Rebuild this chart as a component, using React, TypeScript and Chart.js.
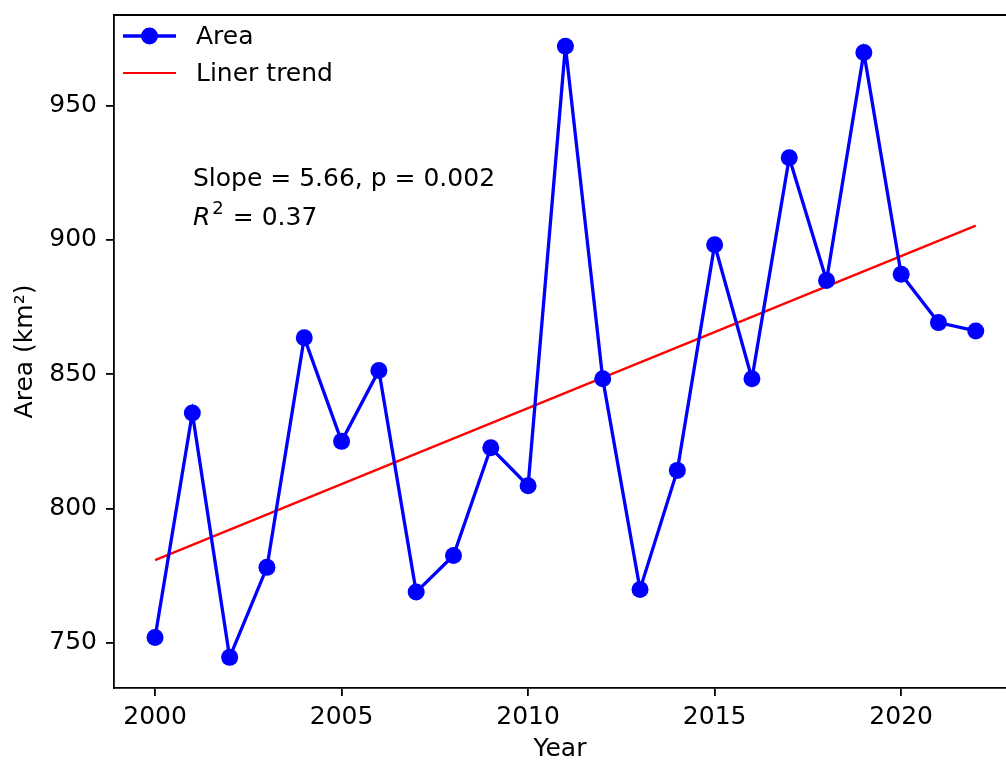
import React, { useEffect, useRef } from "react";
import { Chart, registerables } from "chart.js";

Chart.register(...registerables);

const years = [2000, 2001, 2002, 2003, 2004, 2005, 2006, 2007, 2008, 2009, 2010, 2011, 2012, 2013, 2014, 2015, 2016, 2017, 2018, 2019, 2020, 2021, 2022];
const areaValues = [752, 835.6, 744.6, 778.1, 863.6, 825, 851.4, 768.9, 782.5, 822.6, 808.5, 972.1, 848.3, 769.9, 814.2, 898.2, 848.3, 930.6, 884.9, 969.7, 887.2, 869.2, 866.1];
const trendYears = [2000, 2022];
const trendValues = [780.8, 905.3];
const xTickValues = [2000, 2005, 2010, 2015, 2020];
const yTickValues = [750, 800, 850, 900, 950];
const legendLabels = ["Area", "Liner trend"];
const slopeText = "Slope = 5.66, p = 0.002";
const r2Text = " = 0.37";
const xTitle = "Year";
const yTitle = "Area (km²)";

const FONT = "'DejaVu Sans', sans-serif";
const FS = 25;

const overlayPlugin = {
  id: "overlay",
  afterDraw(chart: any) {
    const ctx = chart.ctx;
    const ca = chart.chartArea;
    ctx.save();
    // top spine
    ctx.strokeStyle = "#000";
    ctx.lineWidth = 1.8;
    ctx.beginPath();
    ctx.moveTo(ca.left - 0.9, ca.top);
    ctx.lineTo(chart.width, ca.top);
    ctx.stroke();

    // legend
    const lx0 = 123, lx1 = 176, tx = 196;
    const rows = [36, 73];
    ctx.font = `${FS}px ${FONT}`;
    ctx.textBaseline = "middle";
    ctx.textAlign = "left";
    ctx.strokeStyle = "#0000ff";
    ctx.lineWidth = 3.3;
    ctx.beginPath();
    ctx.moveTo(lx0, rows[0]);
    ctx.lineTo(lx1, rows[0]);
    ctx.stroke();
    ctx.fillStyle = "#0000ff";
    ctx.beginPath();
    ctx.arc((lx0 + lx1) / 2, rows[0], 8.5, 0, Math.PI * 2);
    ctx.fill();
    ctx.fillStyle = "#000";
    ctx.fillText(legendLabels[0], tx, rows[0] + 1);
    ctx.strokeStyle = "#ff0000";
    ctx.lineWidth = 2.2;
    ctx.beginPath();
    ctx.moveTo(lx0, rows[1]);
    ctx.lineTo(lx1, rows[1]);
    ctx.stroke();
    ctx.fillStyle = "#000";
    ctx.fillText(legendLabels[1], tx, rows[1] + 1);

    // annotation
    const ax = 193;
    ctx.fillText(slopeText, ax, 179);
    ctx.font = `italic ${FS}px ${FONT}`;
    ctx.fillText("R", ax, 218);
    const rw = ctx.measureText("R").width;
    ctx.font = `${Math.round(FS * 0.7)}px ${FONT}`;
    ctx.fillText("2", ax + rw + 2, 209);
    const sw = ctx.measureText("2").width;
    ctx.font = `${FS}px ${FONT}`;
    ctx.fillText(r2Text, ax + rw + 2 + sw + 1, 218);
    ctx.restore();
  },
};

export default function App() {
  const ref = useRef<HTMLCanvasElement | null>(null);
  useEffect(() => {
    if (!ref.current) return;
    const chart = new Chart(ref.current, {
      type: "line",
      data: {
        datasets: [
          {
            label: legendLabels[0],
            data: years.map((y, i) => ({ x: y, y: areaValues[i] })),
            borderColor: "#0000ff",
            backgroundColor: "#0000ff",
            borderWidth: 3.3,
            pointRadius: 8.5,
            pointBorderWidth: 0,
            pointBackgroundColor: "#0000ff",
            tension: 0,
          },
          {
            label: legendLabels[1],
            data: trendYears.map((y, i) => ({ x: y, y: trendValues[i] })),
            borderColor: "#ff0000",
            borderWidth: 2.2,
            pointRadius: 0,
            tension: 0,
          },
        ],
      },
      options: {
        animation: false,
        responsive: false,
        devicePixelRatio: 1,
        layout: { autoPadding: false, padding: { top: 15, left: 0, right: 0, bottom: 0 } },
        plugins: { legend: { display: false }, tooltip: { enabled: false } },
        scales: {
          x: {
            type: "linear",
            min: 1998.9,
            max: 2022.81,
            afterBuildTicks: (s: any) => {
              s.ticks = xTickValues.map((v) => ({ value: v }));
            },
            afterFit: (s: any) => {
              s.height = 76;
              s.paddingLeft = 0;
              s.paddingRight = 0;
            },
            grid: { drawOnChartArea: false, drawTicks: true, tickLength: 8, color: "#000", lineWidth: 1.8 },
            border: { display: true, color: "#000", width: 1.8 },
            ticks: {
              color: "#000",
              font: { family: FONT, size: FS },
              padding: 6,
              maxRotation: 0,
              autoSkip: false,
              callback: (v: any) => String(v),
            },
            title: {
              display: true,
              text: xTitle,
              color: "#000",
              font: { family: FONT, size: FS },
              padding: { top: 0, bottom: 0 },
            },
          },
          y: {
            type: "linear",
            min: 733.2,
            max: 983.7,
            afterBuildTicks: (s: any) => {
              s.ticks = yTickValues.map((v) => ({ value: v }));
            },
            afterFit: (s: any) => {
              s.width = 114;
              s.paddingTop = 0;
              s.paddingBottom = 0;
            },
            grid: { drawOnChartArea: false, drawTicks: true, tickLength: 8, color: "#000", lineWidth: 1.8 },
            border: { display: true, color: "#000", width: 1.8 },
            ticks: {
              color: "#000",
              font: { family: FONT, size: FS },
              padding: 9,
              autoSkip: false,
              callback: (v: any) => String(v),
            },
            title: {
              display: true,
              text: yTitle,
              color: "#000",
              font: { family: FONT, size: FS },
              padding: { top: 10, bottom: 0 },
            },
          },
        },
      },
      plugins: [overlayPlugin],
    } as any);
    return () => chart.destroy();
  }, []);
  return (
    <div style={{ position: "absolute", left: 0, top: 0, width: 1006, height: 764, background: "#fff" }}>
      <canvas ref={ref} width={1006} height={764} style={{ display: "block", width: 1006, height: 764 }} />
    </div>
  );
}
